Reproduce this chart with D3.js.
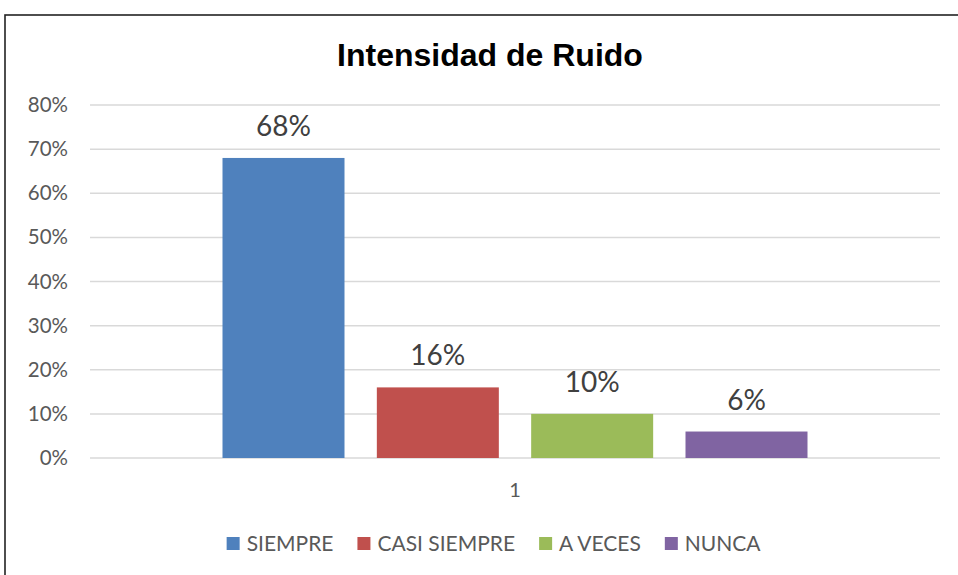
<!DOCTYPE html>
<html>
<head>
<meta charset="utf-8">
<script src="https://cdn.jsdelivr.net/npm/d3@7"></script>
<style>
  body { margin: 0; background: #fff; }
  svg { display: block; }
</style>
</head>
<body>
<div id="chart"></div>
<script>
var categories = ["1"];
var series = ["SIEMPRE", "CASI SIEMPRE", "A VECES", "NUNCA"];
var values = [0.68, 0.16, 0.10, 0.06];
var colors = ["#4F81BD", "#C0504D", "#9BBB59", "#8064A2"];
var yTicks = [0, 0.1, 0.2, 0.3, 0.4, 0.5, 0.6, 0.7, 0.8];

var svgWidth = 958, svgHeight = 575;
var margin = {top: 105, right: 18, bottom: 117, left: 90};
var width = svgWidth - margin.left - margin.right;
var height = svgHeight - margin.top - margin.bottom;
var font = "Lato, 'Open Sans', sans-serif";

var svg = d3.select("#chart").append("svg")
    .attr("width", svgWidth)
    .attr("height", svgHeight);

// outer chart frame
svg.append("rect")
    .attr("x", 5).attr("y", 15)
    .attr("width", 1000).attr("height", 1000)
    .attr("fill", "none")
    .attr("stroke", "#222")
    .attr("stroke-width", 1.6);

svg.append("text")
    .attr("x", 490).attr("y", 66)
    .attr("text-anchor", "middle")
    .attr("font-family", "'Liberation Sans', Arial, sans-serif")
    .attr("font-weight", "bold")
    .attr("font-size", "32px")
    .attr("fill", "#000")
    .text("Intensidad de Ruido");

var g = svg.append("g").attr("transform", `translate(${margin.left},${margin.top})`);

var y = d3.scaleLinear().domain([0, 0.8]).range([height, 0]);
var x0 = d3.scaleBand().domain(categories).range([0, width]).paddingInner(0).paddingOuter(0.2265);
var x1 = d3.scaleBand().domain(series).range([0, x0.bandwidth()]).paddingInner(0.2095).paddingOuter(0);

// gridlines
g.selectAll(".grid").data(yTicks).enter().append("line")
    .attr("x1", 0).attr("x2", width)
    .attr("y1", d => y(d)).attr("y2", d => y(d))
    .attr("stroke", "#d9d9d9").attr("stroke-width", 1.5);

var yAxis = g.append("g").call(d3.axisLeft(y).tickValues(yTicks).tickFormat(d3.format(".0%")).tickSize(0).tickPadding(22));
yAxis.select(".domain").remove();
yAxis.selectAll("text")
    .attr("font-family", font).attr("font-size", "20.5px").attr("fill", "#595959");

var xAxis = g.append("g").attr("transform", `translate(0,${height})`)
    .call(d3.axisBottom(x0).tickSize(0).tickPadding(25));
xAxis.select(".domain").remove();
xAxis.selectAll("text")
    .attr("font-family", font).attr("font-size", "20px").attr("fill", "#595959");

var grp = g.selectAll(".cat").data(categories).enter().append("g")
    .attr("transform", d => `translate(${x0(d)},0)`);

grp.selectAll("rect").data(series).enter().append("rect")
    .attr("x", d => x1(d))
    .attr("y", (d, i) => y(values[i]))
    .attr("width", x1.bandwidth())
    .attr("height", (d, i) => height - y(values[i]))
    .attr("fill", (d, i) => colors[i]);

grp.selectAll(".lbl").data(series).enter().append("text")
    .attr("x", d => x1(d) + x1.bandwidth() / 2)
    .attr("y", (d, i) => y(values[i]) - 22)
    .attr("text-anchor", "middle")
    .attr("font-family", font).attr("font-size", "28px").attr("fill", "#404040")
    .text((d, i) => d3.format(".0%")(values[i]));

// legend
var legend = svg.append("g").attr("transform", "translate(0,551)");
var items = legend.selectAll("g").data(series).enter().append("g");
items.append("rect")
    .attr("y", -14).attr("width", 13).attr("height", 13)
    .attr("fill", (d, i) => colors[i]);
items.append("text")
    .attr("x", 20)
    .attr("font-family", font).attr("font-size", "21px").attr("fill", "#595959")
    .text(d => d);
var gap = 24;
var pos = 0, offsets = [];
items.each(function() {
  offsets.push(pos);
  pos += this.getBBox().width + gap;
});
var total = pos - gap;
var start = 494 - total / 2;
items.attr("transform", (d, i) => `translate(${start + offsets[i]},0)`);
</script>
</body>
</html>
